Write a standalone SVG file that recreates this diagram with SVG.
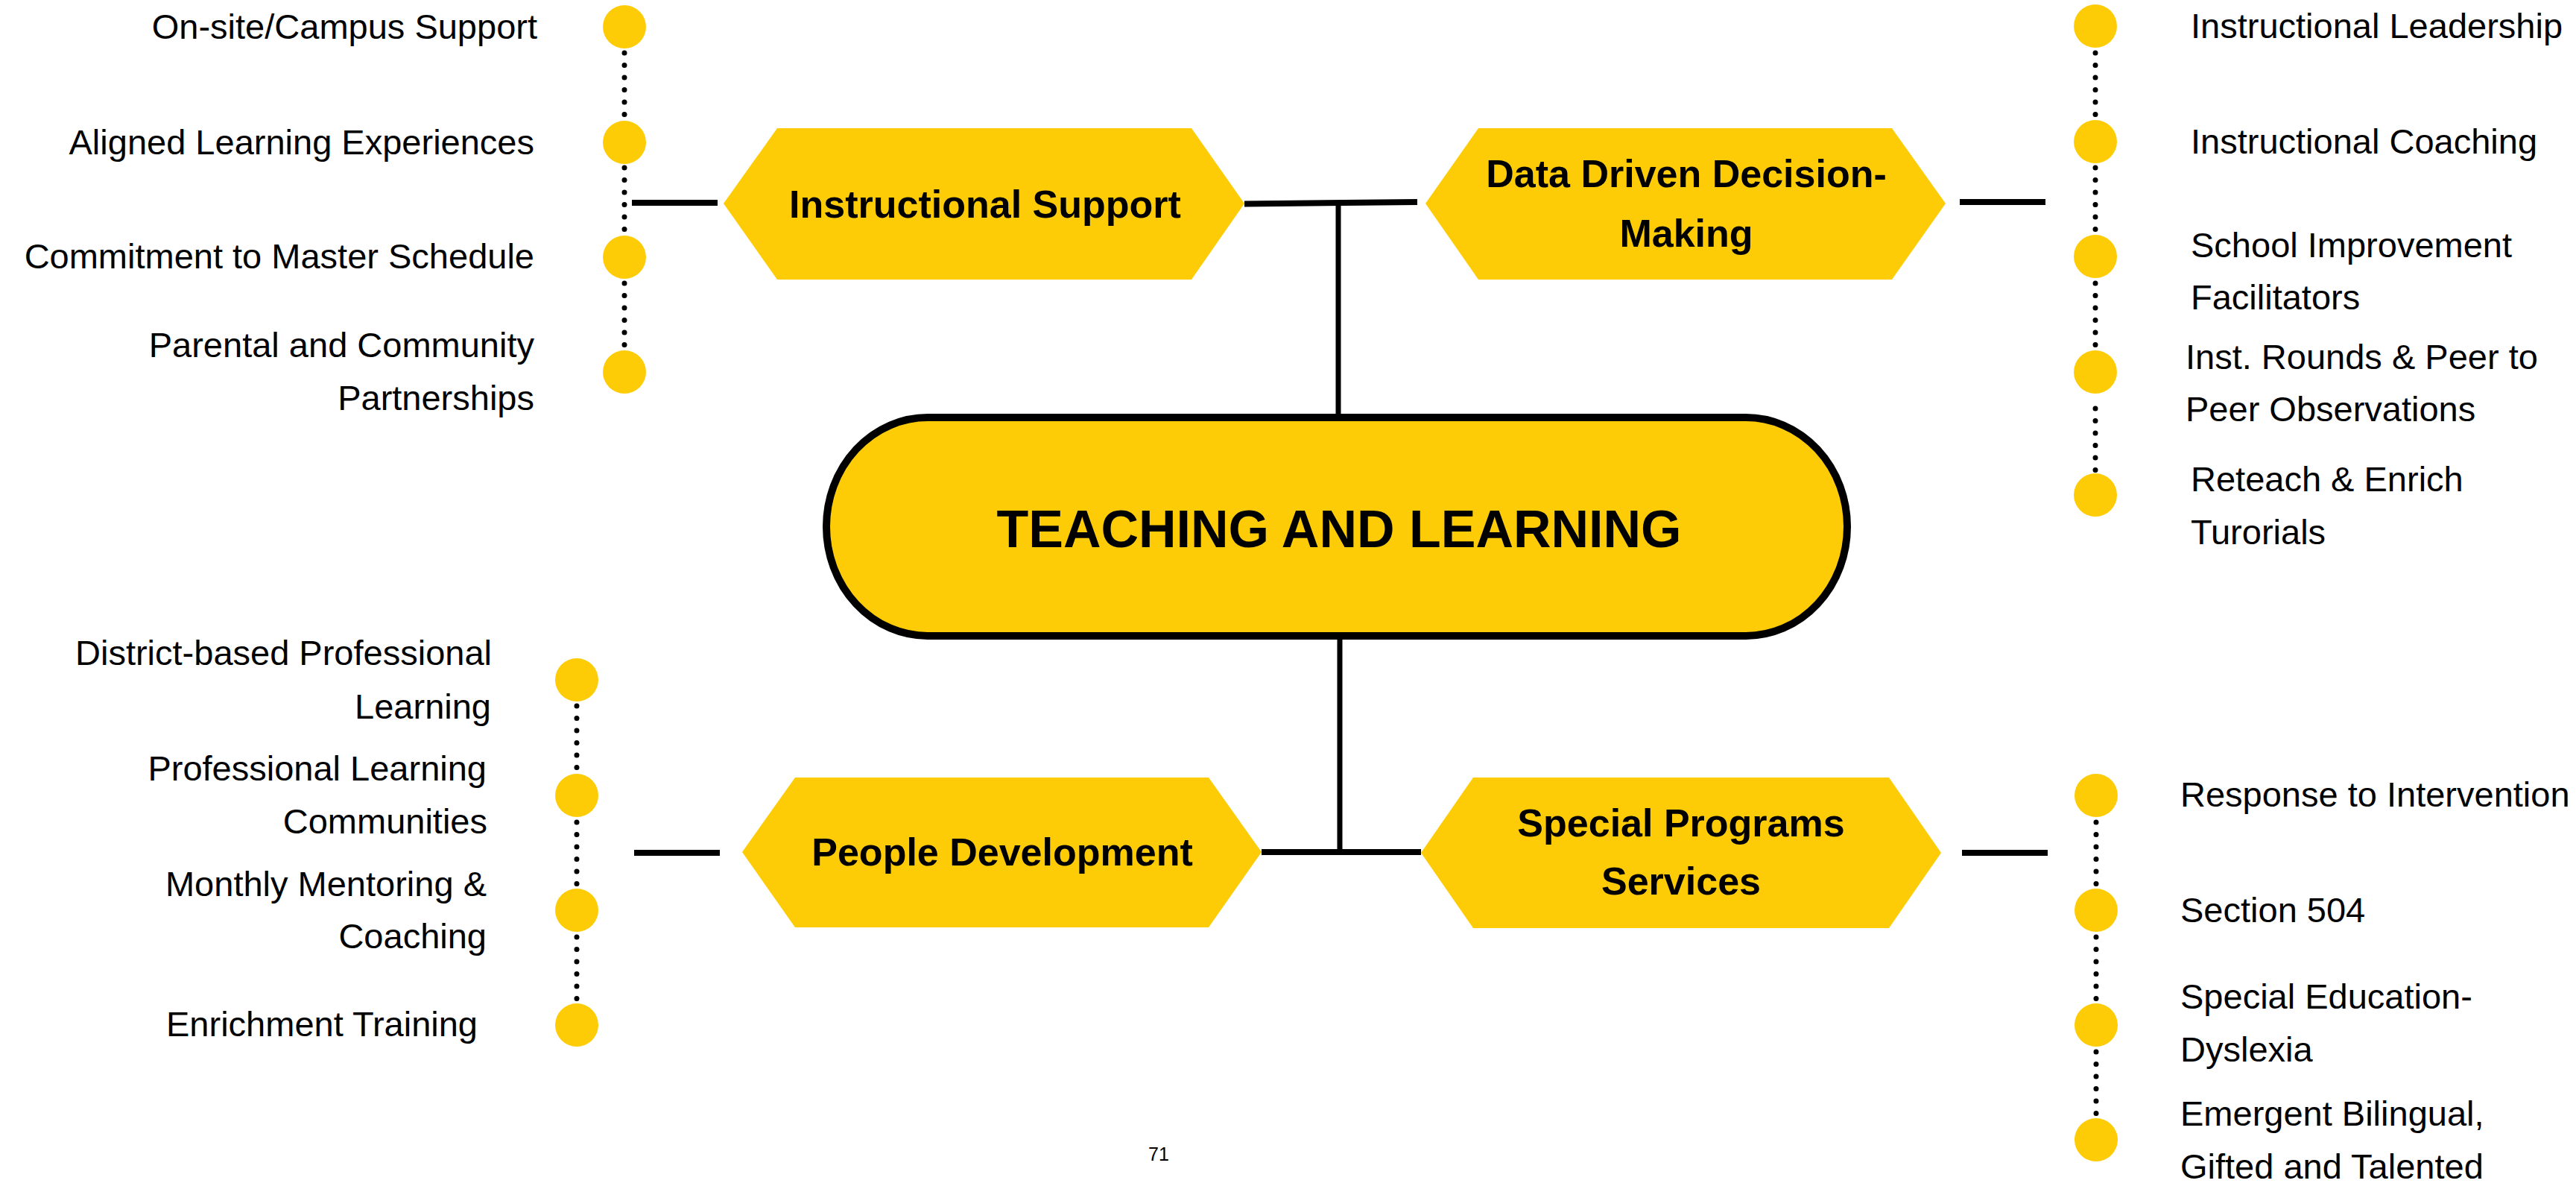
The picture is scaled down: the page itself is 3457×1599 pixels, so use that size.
<svg xmlns="http://www.w3.org/2000/svg" width="3457" height="1599" viewBox="0 0 3457 1599">
<style>
.bg{fill:#ffffff}
.hex{fill:#FDCC06}
.dot{fill:#FDCC06}
.main{fill:#FDCC06;stroke:#000;stroke-width:10}
.bar{stroke:#000;stroke-width:8;fill:none}
.stem{stroke:#000;stroke-width:7;fill:none}
.dots{stroke:#000;stroke-width:7;stroke-linecap:round;stroke-dasharray:0 16.5;fill:none}
.lbl{font-family:"Liberation Sans",Arial,sans-serif;font-size:47px;fill:#000}
.l{text-anchor:end}
.hl{font-family:"Liberation Sans",Arial,sans-serif;font-size:52px;font-weight:bold;fill:#000;text-anchor:middle}
.tl{font-family:"Liberation Sans",Arial,sans-serif;font-size:70px;font-weight:bold;fill:#000;text-anchor:middle}
.pg{font-family:"Liberation Sans",Arial,sans-serif;font-size:25px;fill:#000;text-anchor:middle}
</style>
<rect class="bg" x="0" y="0" width="3457" height="1599"/>

<g id="connectors">
  <line class="stem" x1="1796" y1="273" x2="1796" y2="556"/>
  <line class="stem" x1="1798" y1="857" x2="1798" y2="1143"/>
  <line class="bar" x1="1670" y1="273.5" x2="1902" y2="271"/>
  <line class="bar" x1="1693" y1="1143" x2="1907" y2="1143"/>
  <line class="bar" x1="848" y1="272" x2="963" y2="272"/>
  <line class="bar" x1="2630" y1="271" x2="2745" y2="271"/>
  <line class="bar" x1="851" y1="1144" x2="966" y2="1144"/>
  <line class="bar" x1="2633" y1="1144" x2="2748" y2="1144"/>
  <line class="dots" x1="838" y1="71" x2="838" y2="161"/>
  <line class="dots" x1="838" y1="225" x2="838" y2="315"/>
  <line class="dots" x1="838" y1="380" x2="838" y2="470"/>
  <line class="dots" x1="2812" y1="71" x2="2812" y2="161"/>
  <line class="dots" x1="2812" y1="225" x2="2812" y2="315"/>
  <line class="dots" x1="2812" y1="380" x2="2812" y2="470"/>
  <line class="dots" x1="2812" y1="548" x2="2812" y2="631"/>
  <line class="dots" x1="774" y1="947" x2="774" y2="1037"/>
  <line class="dots" x1="774" y1="1103" x2="774" y2="1193"/>
  <line class="dots" x1="774" y1="1257" x2="774" y2="1347"/>
  <line class="dots" x1="2813" y1="1103" x2="2813" y2="1193"/>
  <line class="dots" x1="2813" y1="1257" x2="2813" y2="1347"/>
  <line class="dots" x1="2813" y1="1411" x2="2813" y2="1501"/>
</g>

<g id="teaching-and-learning">
  <rect class="main" x="1109" y="560" width="1370" height="293" rx="136" ry="146.5"/>
  <text class="tl" x="1797" y="734">TEACHING AND LEARNING</text>
</g>

<g id="instructional-support">
  <polygon class="hex" points="971,273 1043,172 1599,172 1670,273 1599,375 1043,375"/>
  <text class="hl" x="1322" y="292">Instructional Support</text>
</g>

<g id="data-driven">
  <polygon class="hex" points="1913,273 1984,172 2539,172 2611,273 2539,375 1984,375"/>
  <text class="hl" x="2263" y="251">Data Driven Decision-</text>
  <text class="hl" x="2263" y="331">Making</text>
</g>

<g id="people-development">
  <polygon class="hex" points="996,1143 1067,1043 1622,1043 1693,1143 1622,1244 1067,1244"/>
  <text class="hl" x="1345" y="1161">People Development</text>
</g>

<g id="special-programs">
  <polygon class="hex" points="1907,1144 1977,1043 2535,1043 2605,1144 2535,1245 1977,1245"/>
  <text class="hl" x="2256" y="1122">Special Programs</text>
  <text class="hl" x="2256" y="1200">Services</text>
</g>

<g id="onsite-campus-support">
  <circle class="dot" cx="838" cy="36" r="29"/>
  <text class="lbl l" x="721" y="52">On-site/Campus Support</text>
</g>
<g id="aligned-learning">
  <circle class="dot" cx="838" cy="191" r="29"/>
  <text class="lbl l" x="717" y="207">Aligned Learning Experiences</text>
</g>
<g id="master-schedule">
  <circle class="dot" cx="838" cy="345" r="29"/>
  <text class="lbl l" x="717" y="360">Commitment to Master Schedule</text>
</g>
<g id="parental-community">
  <circle class="dot" cx="838" cy="499" r="29"/>
  <text class="lbl l" x="717" y="479">Parental and Community</text>
  <text class="lbl l" x="717" y="550">Partnerships</text>
</g>

<g id="instructional-leadership">
  <circle class="dot" cx="2812" cy="35" r="29"/>
  <text class="lbl" x="2940" y="51">Instructional Leadership</text>
</g>
<g id="instructional-coaching">
  <circle class="dot" cx="2812" cy="190" r="29"/>
  <text class="lbl" x="2940" y="206">Instructional Coaching</text>
</g>
<g id="school-improvement">
  <circle class="dot" cx="2812" cy="344" r="29"/>
  <text class="lbl" x="2940" y="345">School Improvement</text>
  <text class="lbl" x="2940" y="415">Facilitators</text>
</g>
<g id="inst-rounds">
  <circle class="dot" cx="2812" cy="499" r="29"/>
  <text class="lbl" x="2933" y="495">Inst. Rounds &amp; Peer to</text>
  <text class="lbl" x="2933" y="565">Peer Observations</text>
</g>
<g id="reteach-enrich">
  <circle class="dot" cx="2812" cy="664" r="29"/>
  <text class="lbl" x="2940" y="659">Reteach &amp; Enrich</text>
  <text class="lbl" x="2940" y="730">Turorials</text>
</g>

<g id="district-pl">
  <circle class="dot" cx="774" cy="912" r="29"/>
  <text class="lbl l" x="660" y="892">District-based Professional</text>
  <text class="lbl l" x="659" y="964">Learning</text>
</g>
<g id="plc">
  <circle class="dot" cx="774" cy="1067" r="29"/>
  <text class="lbl l" x="653" y="1047">Professional Learning</text>
  <text class="lbl l" x="654" y="1118">Communities</text>
</g>
<g id="mentoring">
  <circle class="dot" cx="774" cy="1221" r="29"/>
  <text class="lbl l" x="653" y="1202">Monthly Mentoring &amp;</text>
  <text class="lbl l" x="653" y="1272">Coaching</text>
</g>
<g id="enrichment-training">
  <circle class="dot" cx="774" cy="1375" r="29"/>
  <text class="lbl l" x="641" y="1390">Enrichment Training</text>
</g>

<g id="rti">
  <circle class="dot" cx="2813" cy="1067" r="29"/>
  <text class="lbl" x="2926" y="1082">Response to Intervention</text>
</g>
<g id="section-504">
  <circle class="dot" cx="2813" cy="1221" r="29"/>
  <text class="lbl" x="2926" y="1237">Section 504</text>
</g>
<g id="sped-dyslexia">
  <circle class="dot" cx="2813" cy="1375" r="29"/>
  <text class="lbl" x="2926" y="1353">Special Education-</text>
  <text class="lbl" x="2926" y="1424">Dyslexia</text>
</g>
<g id="eb-gt">
  <circle class="dot" cx="2813" cy="1529" r="29"/>
  <text class="lbl" x="2926" y="1510">Emergent Bilingual,</text>
  <text class="lbl" x="2926" y="1581">Gifted and Talented</text>
</g>

<text class="pg" x="1555" y="1557">71</text>
</svg>
